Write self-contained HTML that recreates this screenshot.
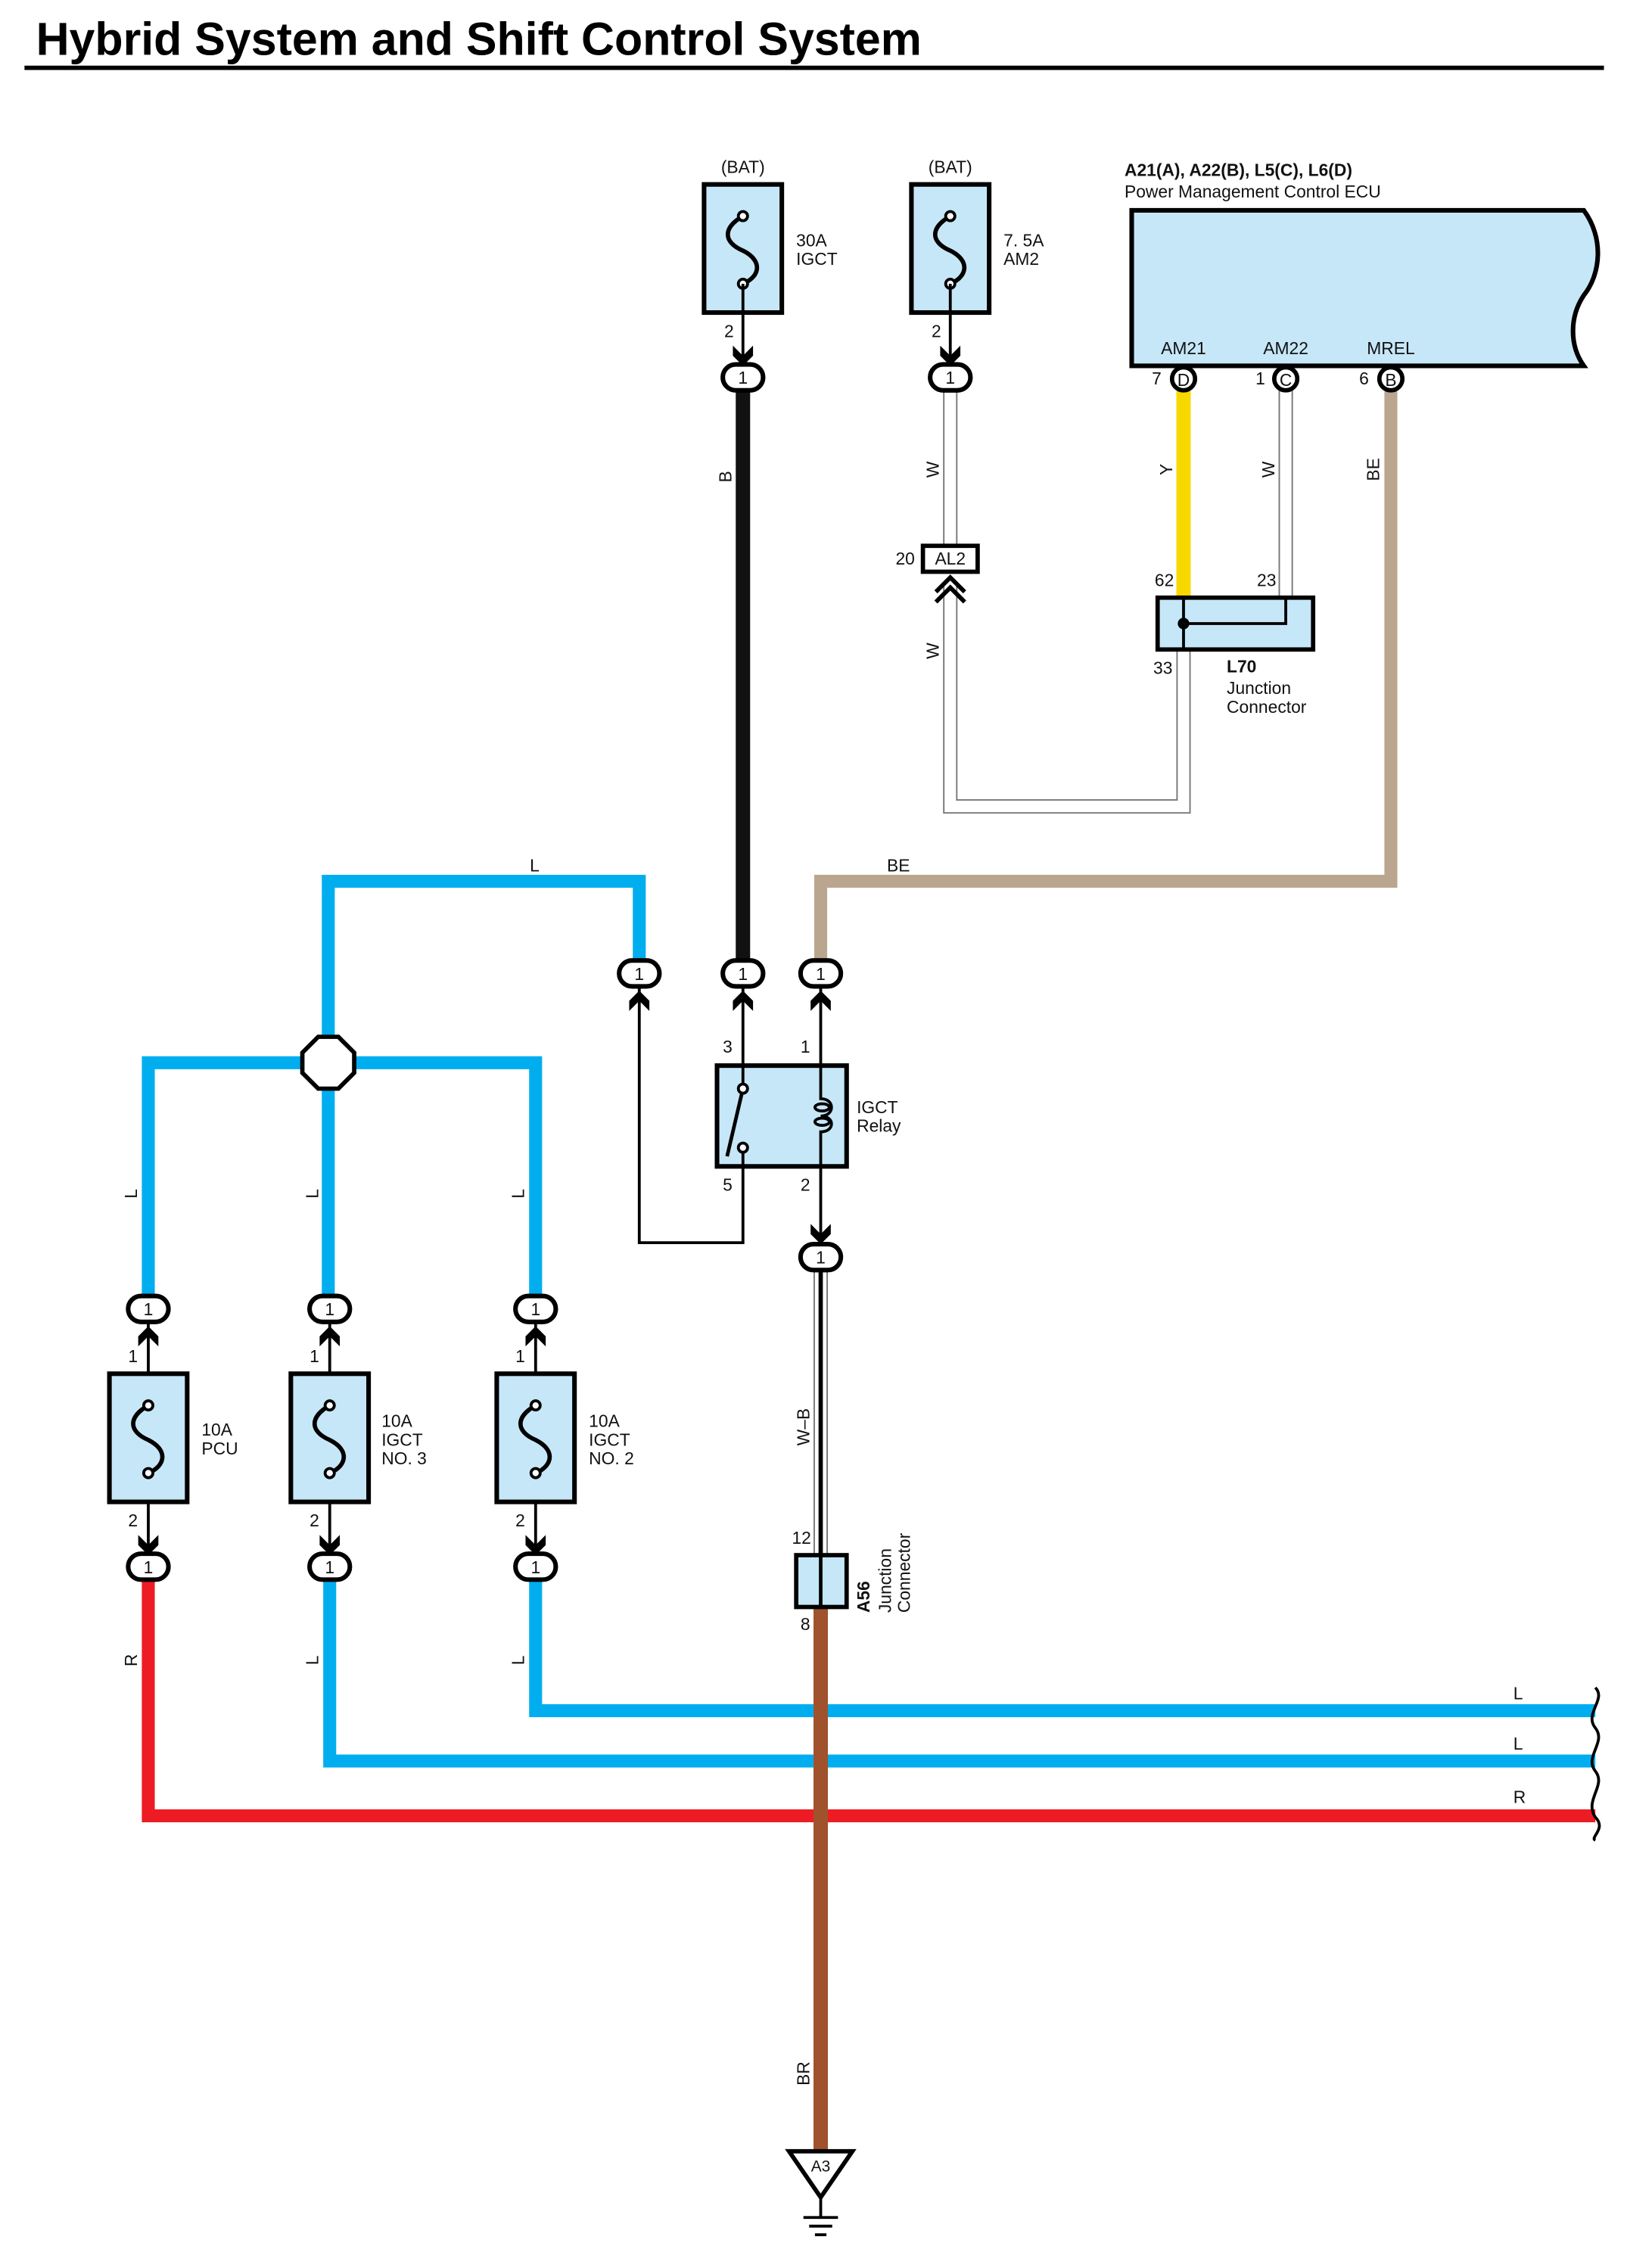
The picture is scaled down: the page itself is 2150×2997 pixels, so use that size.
<!DOCTYPE html>
<html><head><meta charset="utf-8"><style>
html,body{margin:0;padding:0;background:#fff;}
svg{display:block;}
text{font-family:"Liberation Sans",Arial,sans-serif;fill:#111;}
</style></head><body>
<svg width="2150" height="2997" viewBox="0 0 1130 1575" xmlns="http://www.w3.org/2000/svg">
<defs>
<g id="conn"><rect x="-14" y="-9" width="28" height="18" rx="9" ry="9" fill="#fff" stroke="#000" stroke-width="3.2"/><text x="0" y="4.5" font-size="12" text-anchor="middle">1</text></g>
<path id="chd" d="M-7,-12 L0,-5 L7,-12 L7,-5 L0,2 L-7,-5 Z" fill="#000"/>
<path id="chu" d="M-7,12 L0,5 L7,12 L7,5 L0,-2 L-7,5 Z" fill="#000"/>
<g id="fuse">
<rect x="-27" y="0" width="54" height="89" fill="#c6e7f8" stroke="#000" stroke-width="3.2"/>
<path d="M0,22 C-14,30 -14,40 0,46 C14,53 12,64 0,69" fill="none" stroke="#000" stroke-width="3"/>
<circle cx="0" cy="22" r="3.2" fill="#fff" stroke="#000" stroke-width="2"/>
<circle cx="0" cy="69" r="3.2" fill="#fff" stroke="#000" stroke-width="2"/>
</g>
</defs>

<text x="25" y="38" font-size="32" font-weight="bold" style="fill:#000">Hybrid System and Shift Control System</text>
<line x1="17" y1="47" x2="1114" y2="47" stroke="#000" stroke-width="3"/>

<text x="516" y="120" font-size="12" text-anchor="middle">(BAT)</text>
<text x="660" y="120" font-size="12" text-anchor="middle">(BAT)</text>
<use href="#fuse" x="516" y="128"/>
<use href="#fuse" x="660" y="128"/>
<line x1="516" y1="197" x2="516" y2="250" stroke="#000" stroke-width="2"/>
<line x1="660" y1="197" x2="660" y2="250" stroke="#000" stroke-width="2"/>
<text x="553" y="171" font-size="12">30A</text><text x="553" y="184" font-size="12">IGCT</text>
<text x="697" y="171" font-size="12">7. 5A</text><text x="697" y="184" font-size="12">AM2</text>
<text x="503" y="234" font-size="12">2</text><text x="647" y="234" font-size="12">2</text>
<use href="#chd" x="516" y="252"/><use href="#chd" x="660" y="252"/>

<text x="781" y="122" font-size="12" font-weight="bold">A21(A), A22(B), L5(C), L6(D)</text>
<text x="781" y="137" font-size="12">Power Management Control ECU</text>
<path d="M786,146 L1100,146 C1114,165 1112,190 1100,205 C1090,220 1090,240 1100,254 L786,254 Z" fill="#c6e7f8" stroke="#000" stroke-width="3.2"/>
<text x="822" y="246" font-size="12" text-anchor="middle">AM21</text>
<text x="893" y="246" font-size="12" text-anchor="middle">AM22</text>
<text x="966" y="246" font-size="12" text-anchor="middle">MREL</text>

<g fill="none" stroke-linejoin="miter">
<line x1="516" y1="268" x2="516" y2="670" stroke="#111" stroke-width="10"/>
<line x1="660" y1="268" x2="660" y2="380" stroke="#777" stroke-width="10"/>
<line x1="660" y1="268" x2="660" y2="380" stroke="#fff" stroke-width="8"/>
<polyline points="660,405 660,560 822,560 822,451" stroke="#777" stroke-width="10"/>
<polyline points="660,405 660,560 822,560 822,451" stroke="#fff" stroke-width="8"/>
<line x1="822" y1="268" x2="822" y2="415" stroke="#f7d900" stroke-width="10"/>
<line x1="893" y1="268" x2="893" y2="415" stroke="#777" stroke-width="10"/>
<line x1="893" y1="268" x2="893" y2="415" stroke="#fff" stroke-width="8"/>
<polyline points="966,268 966,612 570,612 570,670" stroke="#baa68f" stroke-width="9"/>
<polyline points="444,670 444,612 228,612 228,909" stroke="#00aeef" stroke-width="9"/>
<polyline points="103,909 103,738 372,738 372,909" stroke="#00aeef" stroke-width="9"/>
<line x1="516" y1="684" x2="516" y2="740" stroke="#000" stroke-width="2"/>
<line x1="570" y1="684" x2="570" y2="740" stroke="#000" stroke-width="2"/>
<polyline points="516,810 516,863 444,863 444,686" stroke="#000" stroke-width="2"/>
<line x1="570" y1="810" x2="570" y2="862" stroke="#000" stroke-width="2"/>
<line x1="570" y1="882" x2="570" y2="1080" stroke="#777" stroke-width="10"/>
<line x1="570" y1="882" x2="570" y2="1080" stroke="#fff" stroke-width="8"/>
<line x1="570" y1="882" x2="570" y2="1080" stroke="#000" stroke-width="3"/>
<polyline points="372,1097 372,1188 1108,1188" stroke="#00aeef" stroke-width="9"/>
<polyline points="229,1097 229,1223 1108,1223" stroke="#00aeef" stroke-width="9"/>
<polyline points="103,1097 103,1261 1108,1261" stroke="#ed1c24" stroke-width="9"/>
<line x1="570" y1="1116" x2="570" y2="1496" stroke="#a0522d" stroke-width="10"/>
<line x1="103" y1="918" x2="103" y2="1080" stroke="#000" stroke-width="2"/>
<line x1="229" y1="918" x2="229" y2="1080" stroke="#000" stroke-width="2"/>
<line x1="372" y1="918" x2="372" y2="1080" stroke="#000" stroke-width="2"/>
</g>
<g fill="none" stroke="#000" stroke-width="2">
<path d="M1108,1172 C1116,1180 1100,1190 1108,1200 C1116,1210 1100,1220 1108,1230 C1116,1240 1100,1250 1108,1262 C1116,1270 1104,1276 1108,1278"/>
</g>

<g font-size="12">
<circle cx="822" cy="263" r="8" fill="#fff" stroke="#000" stroke-width="3"/><text x="822" y="268" text-anchor="middle">D</text><text x="800" y="267">7</text>
<circle cx="893" cy="263" r="8" fill="#fff" stroke="#000" stroke-width="3"/><text x="893" y="268" text-anchor="middle">C</text><text x="872" y="267">1</text>
<circle cx="966" cy="263" r="8" fill="#fff" stroke="#000" stroke-width="3"/><text x="966" y="268" text-anchor="middle">B</text><text x="944" y="267">6</text>
</g>

<use href="#conn" x="516" y="262"/><use href="#conn" x="660" y="262"/>
<use href="#conn" x="444" y="676"/><use href="#conn" x="516" y="676"/><use href="#conn" x="570" y="676"/>
<use href="#chu" x="444" y="690"/><use href="#chu" x="516" y="690"/><use href="#chu" x="570" y="690"/>
<use href="#chd" x="570" y="862"/><use href="#conn" x="570" y="873"/>

<rect x="641" y="379" width="38" height="18" fill="#fff" stroke="#000" stroke-width="3"/>
<text x="660" y="392" font-size="12" text-anchor="middle">AL2</text>
<text x="622" y="392" font-size="12">20</text>
<path d="M650,411 L660,401 L670,411 M650,418 L660,408 L670,418" fill="none" stroke="#000" stroke-width="3"/>

<rect x="804" y="415" width="108" height="36" fill="#c6e7f8" stroke="#000" stroke-width="3"/>
<polyline points="822,415 822,433 893,433 893,415" fill="none" stroke="#000" stroke-width="2"/>
<line x1="822" y1="433" x2="822" y2="451" stroke="#000" stroke-width="2"/>
<circle cx="822" cy="433" r="4" fill="#000"/>
<text x="802" y="407" font-size="12">62</text><text x="873" y="407" font-size="12">23</text>
<text x="801" y="468" font-size="12">33</text>
<text x="852" y="467" font-size="12" font-weight="bold">L70</text>
<text x="852" y="482" font-size="12">Junction</text>
<text x="852" y="495" font-size="12">Connector</text>

<g font-size="12">
<text transform="translate(508,331) rotate(-90)" text-anchor="middle">B</text>
<text transform="translate(652,326) rotate(-90)" text-anchor="middle">W</text>
<text transform="translate(652,452) rotate(-90)" text-anchor="middle">W</text>
<text transform="translate(814,326) rotate(-90)" text-anchor="middle">Y</text>
<text transform="translate(885,326) rotate(-90)" text-anchor="middle">W</text>
<text transform="translate(958,326) rotate(-90)" text-anchor="middle">BE</text>
<text x="368" y="605">L</text><text x="616" y="605">BE</text>
<text transform="translate(95,829) rotate(-90)" text-anchor="middle">L</text>
<text transform="translate(221,829) rotate(-90)" text-anchor="middle">L</text>
<text transform="translate(364,829) rotate(-90)" text-anchor="middle">L</text>
<text transform="translate(562,991) rotate(-90)" text-anchor="middle">W–B</text>
<text transform="translate(95,1153) rotate(-90)" text-anchor="middle">R</text>
<text transform="translate(221,1153) rotate(-90)" text-anchor="middle">L</text>
<text transform="translate(364,1153) rotate(-90)" text-anchor="middle">L</text>
<text transform="translate(562,1440) rotate(-90)" text-anchor="middle">BR</text>
<text x="1051" y="1180">L</text><text x="1051" y="1215">L</text><text x="1051" y="1252">R</text>
</g>

<polygon points="221,720 235,720 246,731 246,745 235,756 221,756 210,745 210,731" fill="#fff" stroke="#000" stroke-width="3"/>

<rect x="498" y="740" width="90" height="70" fill="#c6e7f8" stroke="#000" stroke-width="3.2"/>
<line x1="516" y1="740" x2="516" y2="756" stroke="#000" stroke-width="2"/>
<line x1="516" y1="756" x2="505" y2="803" stroke="#000" stroke-width="2.5"/>
<circle cx="516" cy="756" r="3.2" fill="#fff" stroke="#000" stroke-width="2"/>
<circle cx="516" cy="797" r="3.2" fill="#fff" stroke="#000" stroke-width="2"/>
<line x1="516" y1="800" x2="516" y2="810" stroke="#000" stroke-width="2"/>
<path d="M570,740 L570,763 C580,763 580,775 570,775 C580,775 580,786 570,786 L570,810" fill="none" stroke="#000" stroke-width="2"/>
<ellipse cx="571" cy="769" rx="5" ry="2.5" fill="none" stroke="#000" stroke-width="2"/>
<ellipse cx="571" cy="779" rx="5" ry="2.5" fill="none" stroke="#000" stroke-width="2"/>
<g font-size="12"><text x="502" y="731">3</text><text x="556" y="731">1</text><text x="502" y="827">5</text><text x="556" y="827">2</text>
<text x="595" y="773">IGCT</text><text x="595" y="786">Relay</text></g>

<use href="#fuse" x="103" y="954"/><use href="#fuse" x="229" y="954"/><use href="#fuse" x="372" y="954"/>
<g font-size="12">
<text x="140" y="997">10A</text><text x="140" y="1010">PCU</text>
<text x="265" y="991">10A</text><text x="265" y="1004">IGCT</text><text x="265" y="1017">NO. 3</text>
<text x="409" y="991">10A</text><text x="409" y="1004">IGCT</text><text x="409" y="1017">NO. 2</text>
<text x="89" y="946">1</text><text x="215" y="946">1</text><text x="358" y="946">1</text>
<text x="89" y="1060">2</text><text x="215" y="1060">2</text><text x="358" y="1060">2</text>
</g>
<use href="#conn" x="103" y="909"/><use href="#conn" x="229" y="909"/><use href="#conn" x="372" y="909"/>
<use href="#chu" x="103" y="923"/><use href="#chu" x="229" y="923"/><use href="#chu" x="372" y="923"/>
<use href="#chd" x="103" y="1078"/><use href="#chd" x="229" y="1078"/><use href="#chd" x="372" y="1078"/>
<use href="#conn" x="103" y="1088"/><use href="#conn" x="229" y="1088"/><use href="#conn" x="372" y="1088"/>

<rect x="553" y="1080" width="35" height="36" fill="#c6e7f8" stroke="#000" stroke-width="3"/>
<line x1="570" y1="1080" x2="570" y2="1116" stroke="#000" stroke-width="2.5"/>
<g font-size="12"><text x="550" y="1072">12</text><text x="556" y="1132">8</text>
<text transform="translate(604,1120) rotate(-90)" font-weight="bold">A56</text>
<text transform="translate(619,1120) rotate(-90)">Junction</text>
<text transform="translate(632,1120) rotate(-90)">Connector</text></g>

<polygon points="548,1494 592,1494 570,1526" fill="#fff" stroke="#000" stroke-width="3"/>
<text x="570" y="1508" font-size="11" text-anchor="middle">A3</text>
<line x1="570" y1="1526" x2="570" y2="1540" stroke="#000" stroke-width="2"/>
<line x1="558" y1="1540" x2="582" y2="1540" stroke="#000" stroke-width="2"/>
<line x1="562" y1="1546" x2="578" y2="1546" stroke="#000" stroke-width="2"/>
<line x1="566" y1="1552" x2="574" y2="1552" stroke="#000" stroke-width="2"/>
</svg>
</body></html>
